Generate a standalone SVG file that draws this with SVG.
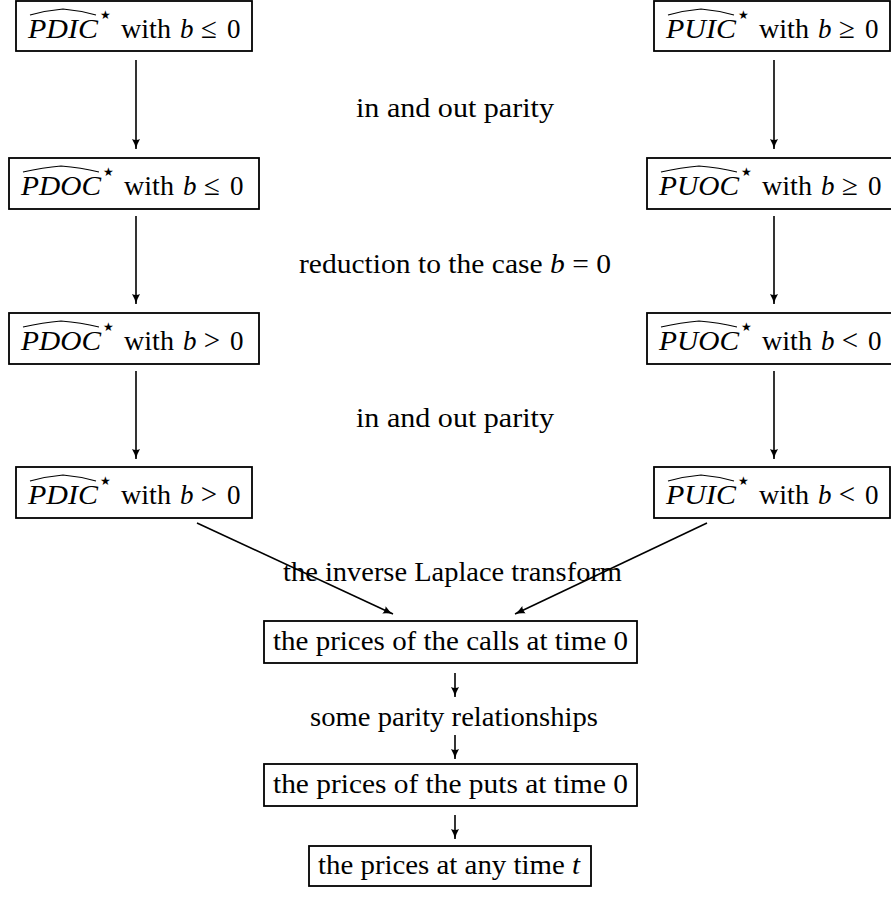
<svg xmlns="http://www.w3.org/2000/svg" width="891" height="899" viewBox="0 0 891 899">
<defs>
<style>
text{font-family:"Liberation Serif","Times New Roman",serif;font-size:27px;fill:#000}
.it{font-style:italic}
.rel{font-size:29px;text-anchor:middle}
.star{font-family:"DejaVu Sans",sans-serif;font-size:12px}
.box{fill:#fff;stroke:#000;stroke-width:1.8}
.hat{fill:none;stroke:#000;stroke-width:1.2}
.conn line{stroke:#000;stroke-width:1.6}
</style>
<marker id="ah" markerWidth="12" markerHeight="10" refX="10" refY="5" orient="auto" markerUnits="userSpaceOnUse">
<path d="M0,1 Q5,4 10,5 Q5,6 0,9 Q2,5 0,1 Z" fill="#000"/>
</marker>
</defs>
<rect width="891" height="899" fill="#fff"/>

<g id="n1" transform="translate(16,1)">
<rect class="box" x="0" y="0" width="236" height="50"/>
<text class="it" x="12" y="37" textLength="70" lengthAdjust="spacingAndGlyphs">PDIC</text>
<path class="hat" d="M14 14 Q30 9.5 47 8 Q64 9.5 80 14"/>
<text class="star" x="84" y="18">★</text>
<text x="105" y="37" textLength="50" lengthAdjust="spacingAndGlyphs">with</text>
<text class="it" x="164" y="37">b</text>
<text class="rel" x="193" y="37">≤</text>
<text x="211" y="37">0</text>
</g>

<g id="n2" transform="translate(9,158)">
<rect class="box" x="0" y="0" width="250" height="51"/>
<text class="it" x="12" y="37" textLength="80" lengthAdjust="spacingAndGlyphs">PDOC</text>
<path class="hat" d="M14 14 Q34 9.5 52 8 Q72 9.5 90 14"/>
<text class="star" x="94" y="18">★</text>
<text x="115" y="37" textLength="50" lengthAdjust="spacingAndGlyphs">with</text>
<text class="it" x="174" y="37">b</text>
<text class="rel" x="203" y="37">≤</text>
<text x="221" y="37">0</text>
</g>

<g id="n3" transform="translate(9,313)">
<rect class="box" x="0" y="0" width="250" height="51"/>
<text class="it" x="12" y="37" textLength="80" lengthAdjust="spacingAndGlyphs">PDOC</text>
<path class="hat" d="M14 14 Q34 9.5 52 8 Q72 9.5 90 14"/>
<text class="star" x="94" y="18">★</text>
<text x="115" y="37" textLength="50" lengthAdjust="spacingAndGlyphs">with</text>
<text class="it" x="174" y="37">b</text>
<text class="rel" x="203" y="37">&gt;</text>
<text x="221" y="37">0</text>
</g>

<g id="n4" transform="translate(16,467)">
<rect class="box" x="0" y="0" width="236" height="51"/>
<text class="it" x="12" y="37" textLength="70" lengthAdjust="spacingAndGlyphs">PDIC</text>
<path class="hat" d="M14 14 Q30 9.5 47 8 Q64 9.5 80 14"/>
<text class="star" x="84" y="18">★</text>
<text x="105" y="37" textLength="50" lengthAdjust="spacingAndGlyphs">with</text>
<text class="it" x="164" y="37">b</text>
<text class="rel" x="193" y="37">&gt;</text>
<text x="211" y="37">0</text>
</g>

<g id="n5" transform="translate(654,1)">
<rect class="box" x="0" y="0" width="236" height="50"/>
<text class="it" x="12" y="37" textLength="70" lengthAdjust="spacingAndGlyphs">PUIC</text>
<path class="hat" d="M14 14 Q30 9.5 47 8 Q64 9.5 80 14"/>
<text class="star" x="84" y="18">★</text>
<text x="105" y="37" textLength="50" lengthAdjust="spacingAndGlyphs">with</text>
<text class="it" x="164" y="37">b</text>
<text class="rel" x="193" y="37">≥</text>
<text x="211" y="37">0</text>
</g>

<g id="n6" transform="translate(647,158)">
<rect class="box" x="0" y="0" width="250" height="51"/>
<text class="it" x="12" y="37" textLength="80" lengthAdjust="spacingAndGlyphs">PUOC</text>
<path class="hat" d="M14 14 Q34 9.5 52 8 Q72 9.5 90 14"/>
<text class="star" x="94" y="18">★</text>
<text x="115" y="37" textLength="50" lengthAdjust="spacingAndGlyphs">with</text>
<text class="it" x="174" y="37">b</text>
<text class="rel" x="203" y="37">≥</text>
<text x="221" y="37">0</text>
</g>

<g id="n7" transform="translate(647,313)">
<rect class="box" x="0" y="0" width="250" height="51"/>
<text class="it" x="12" y="37" textLength="80" lengthAdjust="spacingAndGlyphs">PUOC</text>
<path class="hat" d="M14 14 Q34 9.5 52 8 Q72 9.5 90 14"/>
<text class="star" x="94" y="18">★</text>
<text x="115" y="37" textLength="50" lengthAdjust="spacingAndGlyphs">with</text>
<text class="it" x="174" y="37">b</text>
<text class="rel" x="203" y="37">&lt;</text>
<text x="221" y="37">0</text>
</g>

<g id="n8" transform="translate(654,467)">
<rect class="box" x="0" y="0" width="236" height="51"/>
<text class="it" x="12" y="37" textLength="70" lengthAdjust="spacingAndGlyphs">PUIC</text>
<path class="hat" d="M14 14 Q30 9.5 47 8 Q64 9.5 80 14"/>
<text class="star" x="84" y="18">★</text>
<text x="105" y="37" textLength="50" lengthAdjust="spacingAndGlyphs">with</text>
<text class="it" x="164" y="37">b</text>
<text class="rel" x="193" y="37">&lt;</text>
<text x="211" y="37">0</text>
</g>

<g id="n9">
<rect class="box" x="264" y="621" width="373" height="42"/>
<text x="273" y="650" textLength="355" lengthAdjust="spacingAndGlyphs">the prices of the calls at time 0</text>
</g>
<g id="n10">
<rect class="box" x="264" y="764" width="373" height="42"/>
<text x="273" y="793" textLength="355" lengthAdjust="spacingAndGlyphs">the prices of the puts at time 0</text>
</g>
<g id="n11">
<rect class="box" x="309" y="846" width="282" height="40"/>
<text x="318" y="874" textLength="262" lengthAdjust="spacingAndGlyphs">the prices at any time <tspan class="it">t</tspan></text>
</g>

<g id="connectors" class="conn">
<line x1="136" y1="60" x2="136" y2="149" marker-end="url(#ah)"/>
<line x1="136" y1="216" x2="136" y2="304" marker-end="url(#ah)"/>
<line x1="136" y1="371" x2="136" y2="459" marker-end="url(#ah)"/>
<line x1="774" y1="60" x2="774" y2="149" marker-end="url(#ah)"/>
<line x1="774" y1="216" x2="774" y2="304" marker-end="url(#ah)"/>
<line x1="774" y1="371" x2="774" y2="459" marker-end="url(#ah)"/>
<line x1="197" y1="523" x2="393" y2="614" marker-end="url(#ah)"/>
<line x1="707" y1="523" x2="515" y2="614" marker-end="url(#ah)"/>
<line x1="455" y1="673" x2="455" y2="697" marker-end="url(#ah)"/>
<line x1="455" y1="735" x2="455" y2="759" marker-end="url(#ah)"/>
<line x1="455" y1="815" x2="455" y2="839" marker-end="url(#ah)"/>
</g>

<g id="labels">
<text x="356" y="117" textLength="198" lengthAdjust="spacingAndGlyphs">in and out parity</text>
<text x="299" y="273" textLength="312" lengthAdjust="spacingAndGlyphs">reduction to the case <tspan class="it">b</tspan> = 0</text>
<text x="356" y="427" textLength="198" lengthAdjust="spacingAndGlyphs">in and out parity</text>
<text x="283" y="581" textLength="339" lengthAdjust="spacingAndGlyphs">the inverse Laplace transform</text>
<text x="310" y="726" textLength="288" lengthAdjust="spacingAndGlyphs">some parity relationships</text>
</g>
</svg>
